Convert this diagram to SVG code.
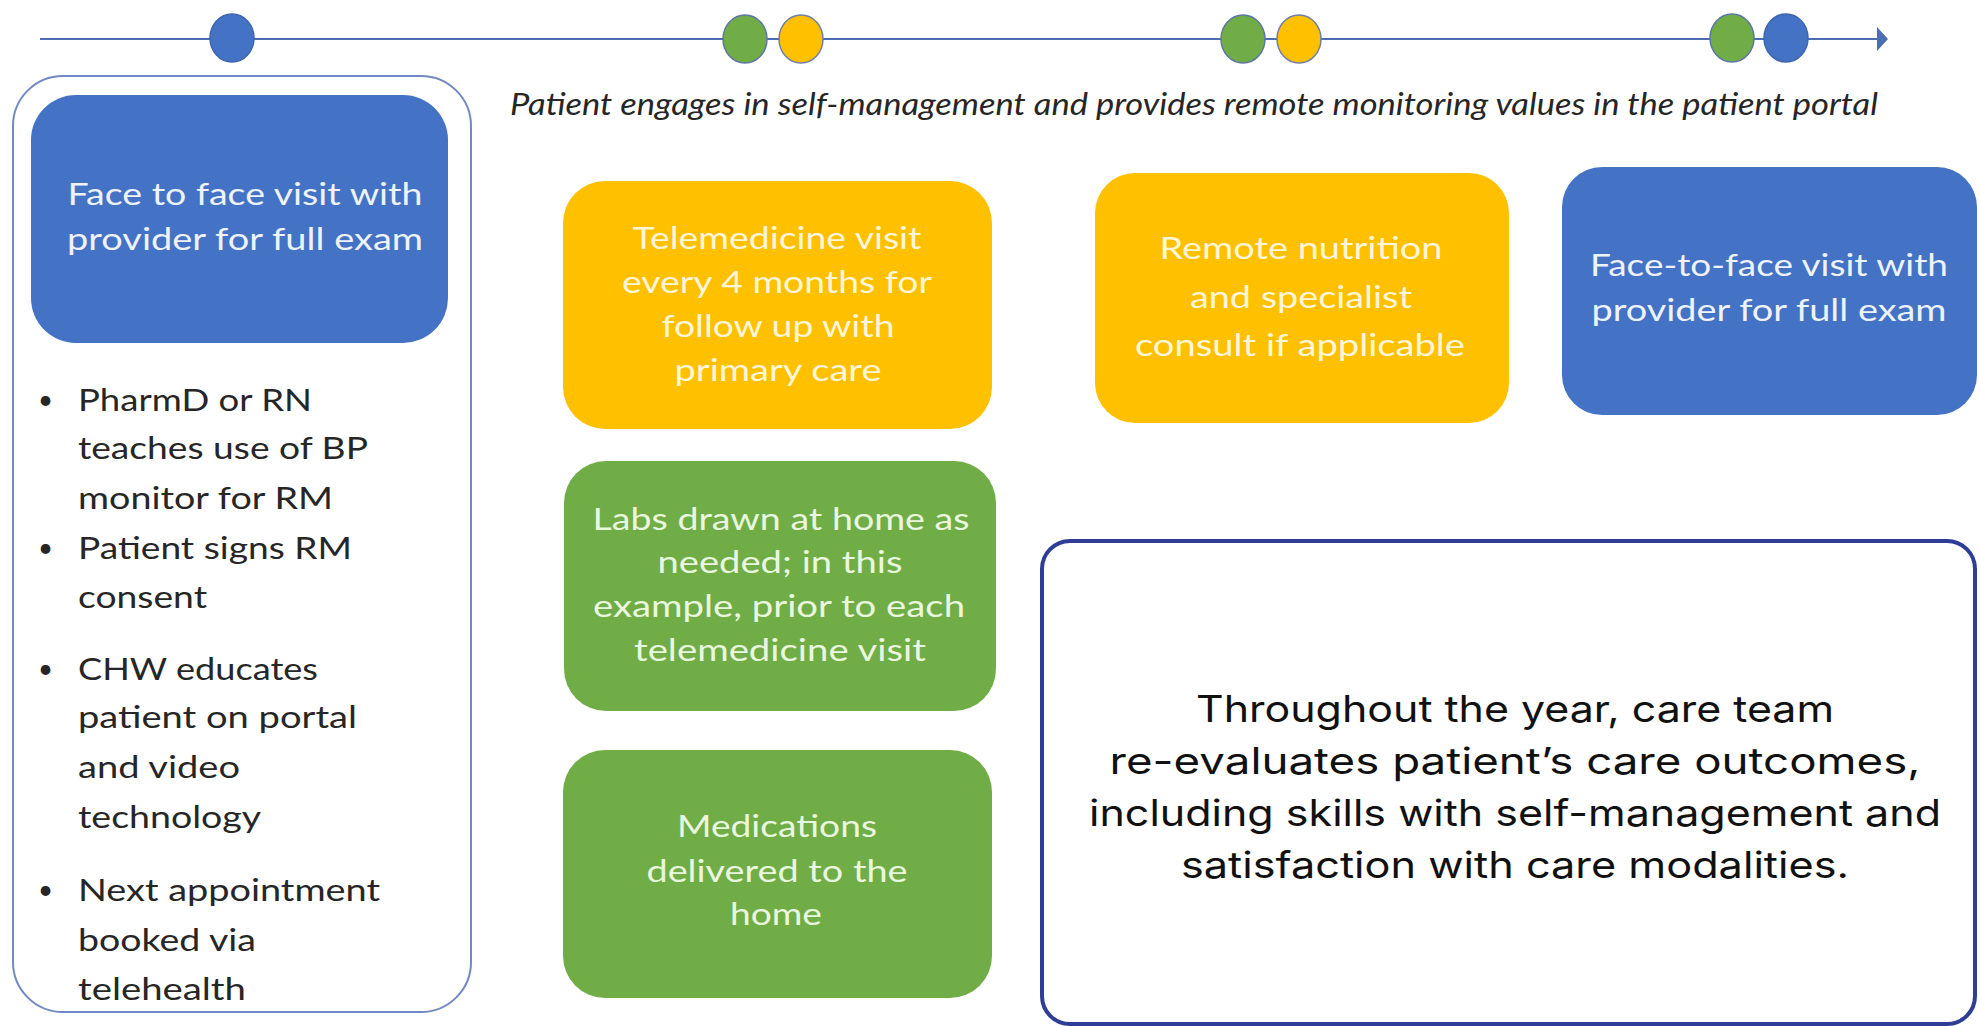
<svg xmlns="http://www.w3.org/2000/svg" width="1980" height="1026" viewBox="0 0 1980 1026">
<style>
.bg{fill:#ffffff}
.blue{fill:#4472C4}
.yellow{fill:#FFC000}
.green{fill:#70AD47}
.dotb{fill:#4472C4;stroke:#3E66AE;stroke-width:1.5}
.doty{fill:#FFC000;stroke:#6F7FA8;stroke-width:1.5}
.dotg{fill:#70AD47;stroke:#5D76A6;stroke-width:1.5}
.tl{stroke:#4A6DB3;stroke-width:2.2;fill:none}
.frame{fill:none;stroke:#7189C2;stroke-width:2}
.bigframe{fill:#ffffff;stroke:#2E3D98;stroke-width:4}
.bt{font-family:Lato,"Open Sans","Liberation Sans",sans-serif;font-size:31px;text-anchor:middle}
.tw{fill:#EEF2FB}
.ty{fill:#FFF6DA}
.tg{fill:#EAF7DF}
.bul{font-family:Lato,"Open Sans","Liberation Sans",sans-serif;font-size:31px;fill:#262626}
.dot{font-size:26px}
.sub{font-family:Lato,"Open Sans","Liberation Sans",sans-serif;font-size:30px;font-style:italic;fill:#262626}
.big{font-family:Inter,"Noto Sans","Liberation Sans",sans-serif;font-size:37px;fill:#111111;text-anchor:middle}
</style>
<rect class="bg" x="0" y="0" width="1980" height="1026"/>

<g id="connectors">
  <line class="tl" x1="40" y1="39" x2="1880" y2="39"/>
  <polygon points="1877,27 1888,39 1877,51" fill="#4A6DB3"/>
</g>

<g id="timeline-dots">
  <ellipse class="dotb" cx="232" cy="38" rx="22" ry="24"/>
  <ellipse class="dotg" cx="745" cy="39" rx="22" ry="24"/>
  <ellipse class="doty" cx="801" cy="39" rx="22" ry="24"/>
  <ellipse class="dotg" cx="1243" cy="39" rx="22" ry="24"/>
  <ellipse class="doty" cx="1299" cy="39" rx="22" ry="24"/>
  <ellipse class="dotg" cx="1732" cy="38" rx="22" ry="24"/>
  <ellipse class="dotb" cx="1786" cy="38" rx="22" ry="24"/>
</g>

<g id="subtitle">
  <text class="sub" x="510" y="115" textLength="1368" lengthAdjust="spacingAndGlyphs">Patient engages in self-management and provides remote monitoring values in the patient portal</text>
</g>

<g id="initial-visit">
  <rect class="frame" x="13" y="76" width="458" height="936" rx="50"/>
  <rect class="blue" x="31" y="95" width="417" height="248" rx="45"/>
  <text class="bt tw" x="245" y="205" textLength="355" lengthAdjust="spacingAndGlyphs">Face to face visit with</text>
  <text class="bt tw" x="245" y="250" textLength="356" lengthAdjust="spacingAndGlyphs">provider for full exam</text>
  <g class="bul">
    <text class="dot" x="38" y="409">•</text>
    <text x="78" y="411" textLength="234" lengthAdjust="spacingAndGlyphs">PharmD or RN</text>
    <text x="78" y="459" textLength="290" lengthAdjust="spacingAndGlyphs">teaches use of BP</text>
    <text x="78" y="509" textLength="255" lengthAdjust="spacingAndGlyphs">monitor for RM</text>
    <text class="dot" x="38" y="557">•</text>
    <text x="78" y="559" textLength="274" lengthAdjust="spacingAndGlyphs">Patient signs RM</text>
    <text x="78" y="608" textLength="129" lengthAdjust="spacingAndGlyphs">consent</text>
    <text class="dot" x="38" y="678">•</text>
    <text x="78" y="680" textLength="240" lengthAdjust="spacingAndGlyphs">CHW educates</text>
    <text x="78" y="728" textLength="279" lengthAdjust="spacingAndGlyphs">patient on portal</text>
    <text x="78" y="778" textLength="162" lengthAdjust="spacingAndGlyphs">and video</text>
    <text x="78" y="828" textLength="183" lengthAdjust="spacingAndGlyphs">technology</text>
    <text class="dot" x="38" y="899">•</text>
    <text x="78" y="901" textLength="302" lengthAdjust="spacingAndGlyphs">Next appointment</text>
    <text x="78" y="951" textLength="178" lengthAdjust="spacingAndGlyphs">booked via</text>
    <text x="78" y="1000" textLength="168" lengthAdjust="spacingAndGlyphs">telehealth</text>
  </g>
</g>

<g id="telemedicine">
  <rect class="yellow" x="563" y="181" width="429" height="248" rx="42"/>
  <text class="bt ty" x="777" y="249" textLength="289" lengthAdjust="spacingAndGlyphs">Telemedicine visit</text>
  <text class="bt ty" x="777" y="293" textLength="310" lengthAdjust="spacingAndGlyphs">every 4 months for</text>
  <text class="bt ty" x="778" y="337" textLength="233" lengthAdjust="spacingAndGlyphs">follow up with</text>
  <text class="bt ty" x="778" y="381" textLength="207" lengthAdjust="spacingAndGlyphs">primary care</text>
</g>

<g id="labs">
  <rect class="green" x="564" y="461" width="432" height="250" rx="42"/>
  <text class="bt tg" x="781" y="530" textLength="377" lengthAdjust="spacingAndGlyphs">Labs drawn at home as</text>
  <text class="bt tg" x="780" y="573" textLength="245" lengthAdjust="spacingAndGlyphs">needed; in this</text>
  <text class="bt tg" x="779" y="617" textLength="372" lengthAdjust="spacingAndGlyphs">example, prior to each</text>
  <text class="bt tg" x="780" y="661" textLength="292" lengthAdjust="spacingAndGlyphs">telemedicine visit</text>
</g>

<g id="medications">
  <rect class="green" x="563" y="750" width="429" height="248" rx="42"/>
  <text class="bt tg" x="777" y="837" textLength="200" lengthAdjust="spacingAndGlyphs">Medications</text>
  <text class="bt tg" x="777" y="882" textLength="261" lengthAdjust="spacingAndGlyphs">delivered to the</text>
  <text class="bt tg" x="776" y="925" textLength="92" lengthAdjust="spacingAndGlyphs">home</text>
</g>

<g id="remote-nutrition">
  <rect class="yellow" x="1095" y="173" width="414" height="250" rx="40"/>
  <text class="bt ty" x="1301" y="259" textLength="283" lengthAdjust="spacingAndGlyphs">Remote nutrition</text>
  <text class="bt ty" x="1301" y="308" textLength="222" lengthAdjust="spacingAndGlyphs">and specialist</text>
  <text class="bt ty" x="1300" y="356" textLength="330" lengthAdjust="spacingAndGlyphs">consult if applicable</text>
</g>

<g id="final-visit">
  <rect class="blue" x="1562" y="167" width="415" height="248" rx="40"/>
  <text class="bt tw" x="1769" y="276" textLength="358" lengthAdjust="spacingAndGlyphs">Face-to-face visit with</text>
  <text class="bt tw" x="1769" y="321" textLength="355" lengthAdjust="spacingAndGlyphs">provider for full exam</text>
</g>

<g id="re-evaluation">
  <rect class="bigframe" x="1042" y="541" width="933" height="483" rx="28"/>
  <text class="big" x="1515" y="722" textLength="638" lengthAdjust="spacingAndGlyphs">Throughout the year, care team</text>
  <text class="big" x="1515" y="774" textLength="811" lengthAdjust="spacingAndGlyphs">re-evaluates patient’s care outcomes,</text>
  <text class="big" x="1515" y="826" textLength="852" lengthAdjust="spacingAndGlyphs">including skills with self-management and</text>
  <text class="big" x="1515" y="878" textLength="668" lengthAdjust="spacingAndGlyphs">satisfaction with care modalities.</text>
</g>
</svg>
